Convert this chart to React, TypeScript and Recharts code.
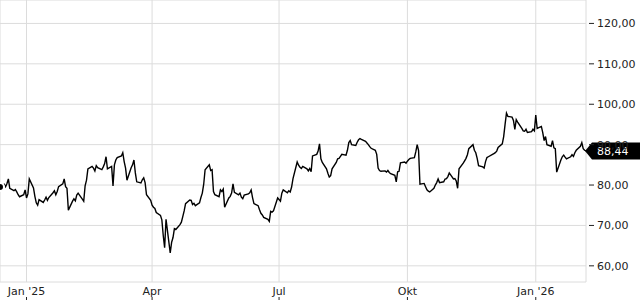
import React from 'react';
import { LineChart, Line, XAxis, YAxis, CartesianGrid, ReferenceDot } from 'recharts';

// closing prices, one per trading day starting Fri 13 Dec 2024
const prices = [
  79.5, 80.2, 79.6, 80.4, 81.5, 79.2, 78.6, 78.9, 78.3, 77.6,
  77.1, 77.6, 78.8, 76.8, 77.8, 81.5, 79.3, 77.2, 75.6, 75.0,
  76.4, 75.7, 76.3, 77.0, 76.2, 76.9, 78.1, 78.6, 77.6, 78.4,
  79.6, 80.3, 81.5, 79.6, 79.2, 73.8, 76.0, 76.6, 76.1, 77.5,
  78.0, 76.5, 76.0, 79.8, 81.2, 84.0, 84.6, 84.2, 83.5, 84.8,
  84.3, 83.8, 84.5, 85.3, 87.0, 84.0, 84.6, 79.8, 85.0, 86.2,
  86.8, 87.2, 88.0, 85.8, 84.2, 81.2, 84.3, 85.0, 86.2, 83.0,
  80.8, 80.5, 81.3, 81.8, 80.6, 77.6, 76.2, 75.0, 74.5, 74.2,
  73.2, 72.5, 71.4, 67.5, 64.5, 71.5, 63.2, 65.8, 67.0, 69.2,
  69.0, 70.2, 70.8, 72.2, 73.6, 75.4, 76.3, 76.2, 75.2, 75.5,
  74.9, 75.6, 76.9, 78.0, 80.2, 83.8, 85.0, 83.6, 83.8, 78.4,
  77.6, 77.1, 78.8, 78.4, 79.0, 74.5, 76.8, 77.2, 78.0, 80.3,
  78.2, 77.6, 78.0, 77.0, 76.6, 77.5, 77.8, 78.1, 78.8, 76.9,
  75.4, 74.9, 73.9, 73.0, 72.6, 72.0, 71.5, 71.0, 73.5, 73.3,
  73.6, 76.8, 76.4, 76.0, 78.0, 78.8, 78.1, 78.6, 78.3, 79.5,
  81.6, 85.7, 84.9, 84.4, 84.1, 84.6, 84.0, 83.5, 84.1, 83.3,
  87.2, 87.6, 88.4, 90.2, 86.5, 85.6, 84.0, 82.9, 82.0, 82.3,
  84.0, 85.6, 86.5, 86.6, 87.1, 87.6, 87.4, 88.6, 90.5, 91.0,
  90.0, 89.8, 90.6, 91.2, 91.5, 91.3, 90.8, 90.4, 90.0, 89.5,
  89.1, 88.6, 87.6, 84.2, 83.6, 83.4, 83.5, 83.2, 83.6, 83.1,
  82.8, 82.4, 80.8, 83.3, 83.4, 85.5, 85.7, 85.4, 85.9, 86.3,
  86.6, 86.8, 88.2, 90.0, 88.5, 80.2, 80.4, 79.6, 78.8, 78.5,
  78.3, 79.2, 80.0, 80.6, 81.5, 80.6, 80.8, 81.5, 81.6, 82.1,
  83.0, 81.5, 81.6, 81.0, 79.2, 84.0, 85.4, 86.0, 86.6, 87.5,
  89.0, 90.0, 88.6, 88.0, 86.6, 84.8, 84.5, 84.2, 85.8, 86.8,
  87.0, 87.6, 87.8, 88.0, 88.4, 89.3, 90.2, 92.0, 95.0, 97.8,
  97.0, 96.8, 96.0, 93.8, 96.2, 95.6, 94.0, 93.4, 93.3, 93.8,
  93.0, 93.2, 93.8, 93.4, 97.3, 94.0, 94.5, 93.0, 91.0, 92.0,
  90.0, 89.6, 91.0, 89.2, 89.0, 83.2, 86.2, 87.0, 87.4, 86.9,
  86.5, 87.0, 87.5, 87.1, 88.0, 88.6, 89.6, 90.5, 89.0, 88.6,
  88.44,
];

const xTicks = [Date.UTC(2025, 0, 1), Date.UTC(2025, 3, 1), Date.UTC(2025, 6, 1), Date.UTC(2025, 9, 1), Date.UTC(2026, 0, 1)];
const xLabels = ["Jan '25", 'Apr', 'Jul', 'Okt', "Jan '26"];
const yTicks = [60, 70, 80, 90, 100, 110, 120];

const DAY = 86400000;
const START = Date.UTC(2024, 11, 13);

const tradingDays = (n: number) => {
  const out: number[] = [];
  let d = START;
  while (out.length < n) {
    const wd = new Date(d).getUTCDay();
    if (wd !== 0 && wd !== 6) out.push(d);
    d += DAY;
  }
  return out;
};

const dates = tradingDays(prices.length);
const data = prices.map((price, i) => ({ t: dates[i], price }));
const last = data[data.length - 1];

const fmt = (v: number) => v.toFixed(2).replace('.', ',');
const FONT = 'DejaVu Sans';

const XTick = ({ x, y, payload }: any) => {
  const idx = xTicks.indexOf(payload.value);
  return (
    <g>
      <text x={x} y={y + 12.5} textAnchor="middle" fontSize={11} fontFamily={FONT} fill="#222">
        {xLabels[idx]}
      </text>
      <line x1={x} x2={x} y1={y + 15} y2={y + 18} stroke="#222" />
    </g>
  );
};

const YTick = ({ x, y, payload }: any) => (
  <g>
    <line x1={x + 3} x2={x + 8} y1={y} y2={y} stroke="#222" />
    <text x={x + 11} y={y + 4} textAnchor="start" fontSize={11} fontFamily={FONT} fill="#222">
      {fmt(payload.value)}
    </text>
  </g>
);

const LastLabel = ({ cx, cy }: any) => (
  <g>
    <path d={`M${cx - 1},${cy} L${cx + 6},${cy - 8.5} H640 V${cy + 8.5} H${cx + 6} Z`} fill="#000" />
    <text x={cx + 11} y={cy + 4} fontSize={11} fontFamily={FONT} fill="#fff">
      {fmt(last.price)}
    </text>
  </g>
);

export default function App() {
  return (
    <div style={{ position: 'absolute', left: 0, top: 0 }}>
      <LineChart width={640} height={300} data={data} margin={{ top: 0, right: 0, bottom: 0, left: 0 }}>
        <CartesianGrid stroke="#dcdcdc" />
        <XAxis
          dataKey="t"
          type="number"
          domain={[START, last.t]}
          ticks={xTicks}
          interval={0}
          height={18}
          axisLine={false}
          tickLine={false}
          tickSize={0}
          tickMargin={0}
          tick={<XTick />}
        />
        <YAxis
          orientation="right"
          width={54}
          domain={[56, 125.8]}
          ticks={yTicks}
          interval={0}
          allowDataOverflow
          axisLine={false}
          tickLine={false}
          tickSize={0}
          tickMargin={0}
          tick={<YTick />}
        />
        <Line
          type="linear"
          dataKey="price"
          stroke="#000"
          strokeWidth={1.4}
          dot={false}
          isAnimationActive={false}
        />
        <ReferenceDot x={last.t} y={last.price} ifOverflow="visible" shape={<LastLabel />} />
      </LineChart>
    </div>
  );
}
